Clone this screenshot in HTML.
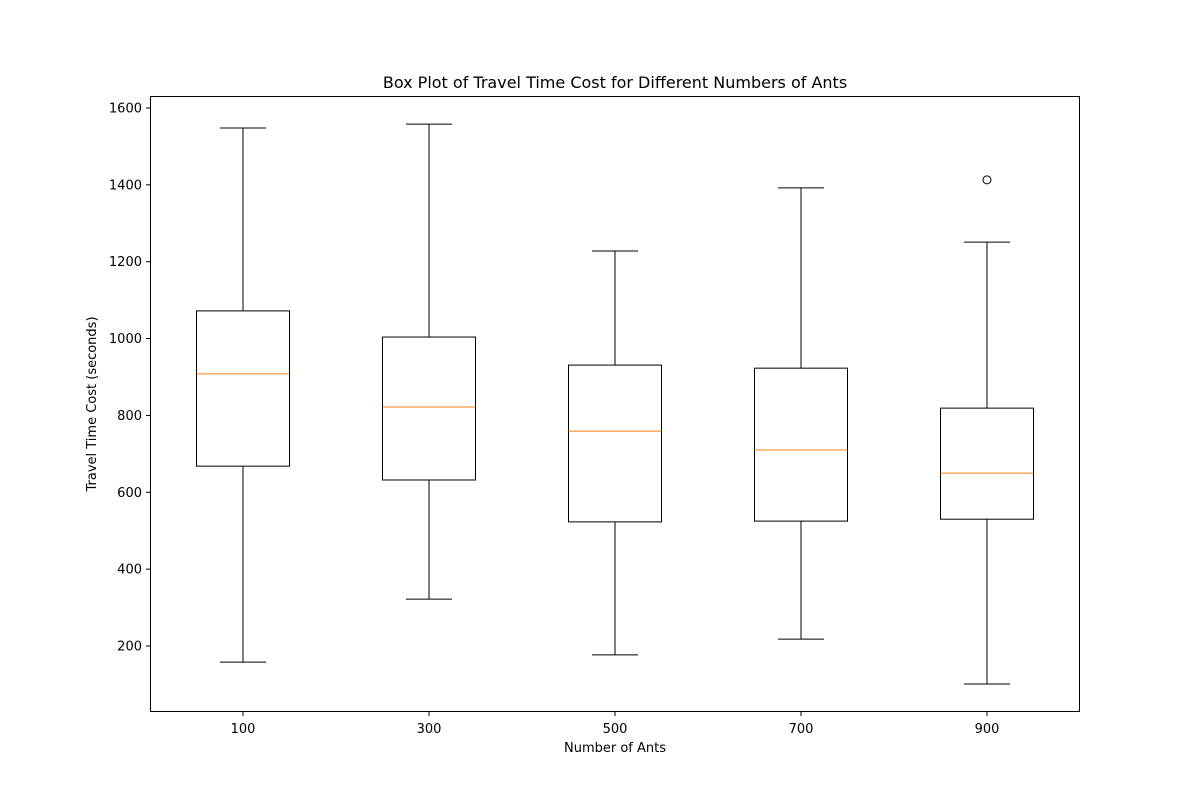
<!DOCTYPE html>
<html><head><meta charset="utf-8"><style>
html,body{margin:0;padding:0;background:#fff;}
text{font-family:"DejaVu Sans","Liberation Sans",sans-serif;fill:#000;}
</style></head>
<body>
<svg id="chart" width="1200" height="800" xmlns="http://www.w3.org/2000/svg">
<rect width="1200" height="800" fill="#fff"/>
<text x="615" y="88" font-size="16" text-anchor="middle">Box Plot of Travel Time Cost for Different Numbers of Ants</text>
<text x="615" y="752" font-size="13" text-anchor="middle">Number of Ants</text>
<text transform="translate(96,404) rotate(-90)" font-size="13" text-anchor="middle">Travel Time Cost (seconds)</text>
<g id="marks"></g>
<rect x="150.5" y="96.5" width="929" height="615" fill="none" stroke="#000" stroke-width="1"/>
</svg>
<script>
const categories = ["100","300","500","700","900"];
const whiskerLow = [158,322,177,218,101];
const q1 = [668,632,523,525,530];
const medians = [908,822,759,710,650];
const q3 = [1072,1004,931,923,819];
const whiskerHigh = [1548,1558,1228,1392,1251];
const outlierCats = [4];
const outlierVals = [1413];
const yTicks = [200,400,600,800,1000,1200,1400,1600];

const NS="http://www.w3.org/2000/svg";
const g=document.getElementById('marks');
function y(v){return 646-(v-200)*(538/1400);}
function x(i){return 243+i*186;}
function mk(t,a){const e=document.createElementNS(NS,t);for(const k in a)e.setAttribute(k,a[k]);g.appendChild(e);return e;}

yTicks.forEach(v=>{
  const t=mk('line',{x1:146,x2:150,y1:y(v),y2:y(v),stroke:'#000'});
  
  
  const l=mk('text',{x:142,y:y(v)+4.5,'font-size':13,'text-anchor':'end'});
  l.textContent=v;
  
  
});
categories.forEach((c,i)=>{
  const cx=x(i);
  const t=mk('line',{x1:cx,x2:cx,y1:712,y2:716,stroke:'#000'});
  
  
  const l=mk('text',{x:cx,y:733,'font-size':13,'text-anchor':'middle'});
  l.textContent=c;
  
  
  const w1=mk('line',{x1:cx,x2:cx,y1:y(q1[i]),y2:y(whiskerLow[i]),stroke:'#000'});
  
  
  const w2=mk('line',{x1:cx,x2:cx,y1:y(q3[i]),y2:y(whiskerHigh[i]),stroke:'#000'});
  
  
  const c1=mk('line',{x1:cx-23,x2:cx+23,y1:y(whiskerLow[i]),y2:y(whiskerLow[i]),stroke:'#000'});
  
  
  const c2=mk('line',{x1:cx-23,x2:cx+23,y1:y(whiskerHigh[i]),y2:y(whiskerHigh[i]),stroke:'#000'});
  
  
  const b=mk('rect',{x:cx-46.5,y:y(q3[i]),width:93,height:y(q1[i])-y(q3[i]),fill:'none',stroke:'#000'});
  
  
  const m=mk('line',{x1:cx-46.5,x2:cx+46.5,y1:y(medians[i]),y2:y(medians[i]),stroke:'#ff7f0e'});
  
  
});
outlierCats.forEach((ci,j)=>{
  const o=mk('circle',{cx:x(ci),cy:y(outlierVals[j]),r:4,fill:'none',stroke:'#000'});
  
  
});
</script>
</body></html>
